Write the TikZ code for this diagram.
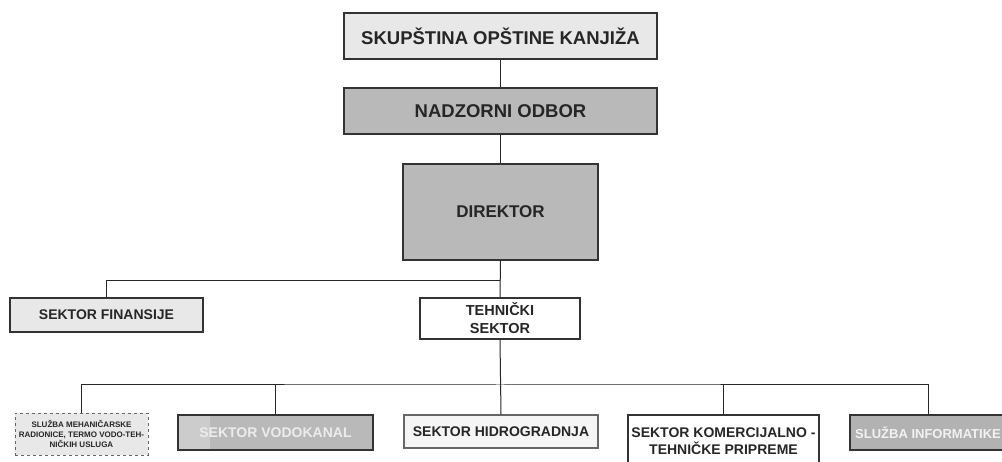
\documentclass[tikz,border=0pt]{standalone}
\usepackage{fontspec}
\setmainfont{Liberation Sans}
\begin{document}
\begin{tikzpicture}[x=1pt,y=-1pt,
  box/.style={draw=black!80, line width=1.3pt, align=center, inner sep=0pt, text=black!85},
  lightbox/.style={box, fill=gray!18},
  darkbox/.style={box, fill=gray!55},
  whitebox/.style={box, fill=white},
  conn/.style={draw=black!85, line width=1pt},
  big/.style={font=\bfseries\fontsize{18.5}{20}\selectfont},
  mid/.style={font=\bfseries\fontsize{14}{17}\selectfont},
  tiny/.style={font=\bfseries\fontsize{8}{10}\selectfont}]
\useasboundingbox (0,0) rectangle (1002,462);
\fill[white] (0,0) rectangle (1002,462);

\node[lightbox, big, minimum width=313pt, minimum height=46pt] (skup) at (500.5,36) {SKUPŠTINA OPŠTINE KANJIŽA};
\node[darkbox, big, minimum width=313pt, minimum height=46pt] (nadz) at (500.5,111) {NADZORNI ODBOR};
\node[darkbox, font=\bfseries\fontsize{17}{20}\selectfont, minimum width=195pt, minimum height=96pt] (dir) at (500.5,212) {DIREKTOR};

\node[lightbox, mid, minimum width=193pt, minimum height=34pt] (fin) at (106.5,315) {SEKTOR FINANSIJE};
\node[whitebox, font=\bfseries\fontsize{14.5}{18}\selectfont, minimum width=160pt, minimum height=41pt] (teh) at (500,318.5) {TEHNIČKI\\SEKTOR};

\node[lightbox, tiny, draw=black!60, line width=0.8pt, dashed, minimum width=133pt, minimum height=42pt] (b1) at (81.5,434) {SLUŽBA MEHANIČARSKE\\RADIONICE, TERMO VODO-TEH-\\NIČKIH USLUGA};
\node[darkbox, mid, text=gray!15, minimum width=195pt, minimum height=35pt,
  path picture={\fill[gray!40] (path picture bounding box.north west) rectangle ([xshift=32pt]path picture bounding box.south west);}] (b2) at (275.5,432.5) {SEKTOR VODOKANAL};
\node[lightbox, mid, draw=black!60, fill=gray!8, minimum width=194pt, minimum height=33pt] (b3) at (501,431.5) {SEKTOR HIDROGRADNJA};
\node[whitebox, mid, minimum width=191pt, minimum height=52pt] (b4) at (723.5,441) {SEKTOR KOMERCIJALNO -\\TEHNIČKE PRIPREME};
\node[darkbox, font=\bfseries\fontsize{13}{15}\selectfont, fill=gray!60, text=gray!10, minimum width=156pt, minimum height=35pt] (b5) at (928,432.5) {SLUŽBA INFORMATIKE};

\coordinate (j1) at (500,281);
\coordinate (j2) at (500,385);

\draw[conn] (skup.south) -- (nadz.north);
\draw[conn] (nadz.south) -- (dir.north);
\draw[conn] (dir.south) -- (teh.north);
\draw[conn] (j1) -| (fin.north);
\draw[conn] (teh.south) -- (b3.north);
\draw[conn] (b1.north) |- (j2) -| (b5.north);
\draw[conn] (j2 -| b2.north) -- (b2.north);
\draw[conn] (j2 -| b4.north) -- (b4.north);
\end{tikzpicture}
\end{document}
